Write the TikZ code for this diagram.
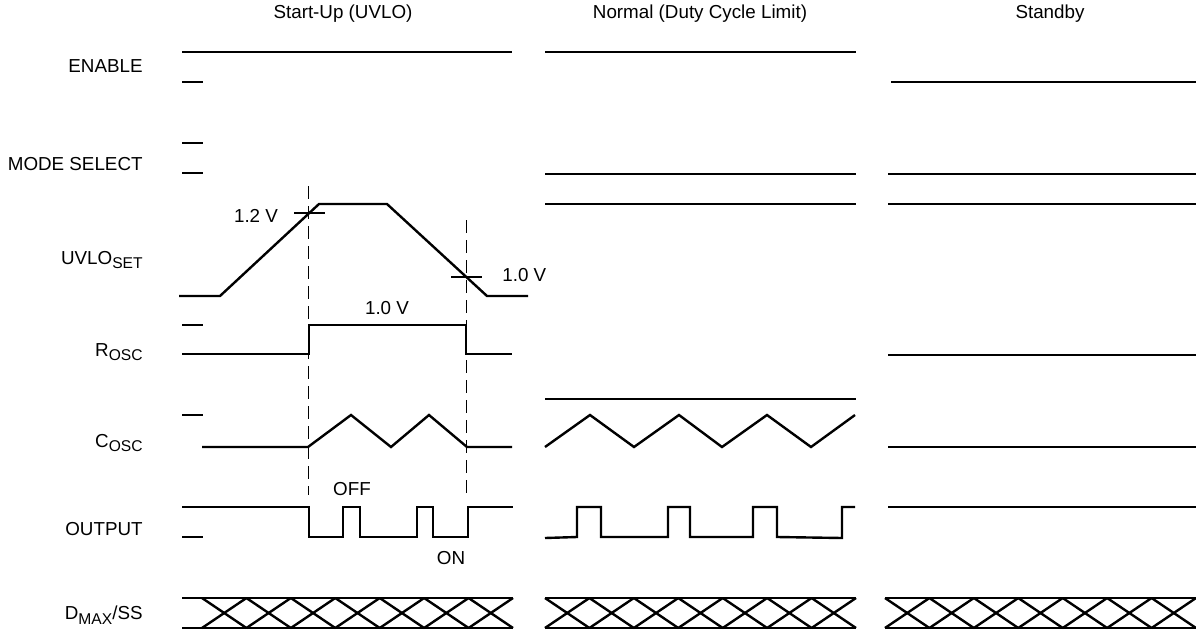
\documentclass[tikz,border=0pt]{standalone}
\usepackage{fontspec}
\setmainfont{Liberation Sans}
\usetikzlibrary{positioning}
\tikzstyle{wave}=[line width=1.2pt]
\tikzstyle{guide}=[line width=0.5pt, dash pattern=on 6.5pt off 3.5pt]
\tikzstyle{signame}=[anchor=east, inner sep=0pt]
\tikzstyle{lbl}=[inner sep=0pt]
\newcommand{\lowsub}[1]{\raisebox{-0.45ex}{\fontsize{7.8}{8}\selectfont #1}}

\begin{document}
\begin{tikzpicture}[x=0.5pt, y=-0.5pt, every node/.style={font=\fontsize{9.4}{11}\selectfont}]
    \useasboundingbox (0,0) rectangle (1196,633);

    % column titles
    \draw node at (343, 14) [lbl] (startup) {Start-Up (UVLO)};
    \draw node at (700, 14) [lbl] (normal) {Normal (Duty Cycle Limit)};
    \draw node at (1050, 14) [lbl] (standby) {Standby};

    % signal names
    \draw node at (143, 66) [signame] (enable) {ENABLE};
    \draw node at (143, 164) [signame] (mode) {MODE SELECT};
    \draw node at (143, 260) [signame] (uvlo) {UVLO\lowsub{SET}};
    \draw node at (143, 352) [signame] (rosc) {R\lowsub{OSC}};
    \draw node at (143, 443) [signame] (cosc) {C\lowsub{OSC}};
    \draw node at (143, 529) [signame] (output) {OUTPUT};
    \draw node at (143, 615) [signame] (dmax) {D\lowsub{MAX}/SS};

    % level marks
    \foreach \y in {82, 143, 173, 325, 415, 537}
        \draw [wave] (182, \y) -- (203, \y);

    % ENABLE
    \draw [wave] (182, 52) -- (512, 52);
    \draw [wave] (545, 52) -- (856, 52);
    \draw [wave] (891, 82) -- (1196, 82);

    % MODE SELECT
    \foreach \y in {174, 204} {
        \draw [wave] (545, \y) -- (856, \y);
        \draw [wave] (888, \y) -- (1196, \y);
    }

    % UVLO_SET
    \draw [wave] (179, 296) -- (220, 296) -- (319, 204) -- (387, 204) -- (487, 296) -- (528, 296);
    \draw [wave] (294, 213) -- (325, 213);
    \draw [wave] (451, 277) -- (482, 277);
    \draw node at (256, 216) [lbl] (uvon) {1.2 V};
    \draw node at (502, 275) [lbl, anchor=west] (uvoff) {1.0 V};

    % ROSC
    \draw [wave] (182, 354) -- (309, 354) -- (309, 325) -- (466, 325) -- (466, 354) -- (512, 354);
    \draw [wave] (888, 355) -- (1196, 355);
    \draw node at (387, 308) [lbl] (rlevel) {1.0 V};

    % COSC
    \draw [wave] (202, 447) -- (308, 447) -- (351, 415) -- (391, 447) -- (429, 415) -- (467, 447) -- (512, 447);
    \draw [wave] (545, 399) -- (856, 399);
    \draw [wave] (545, 447) -- (590, 415) -- (634, 447) -- (679, 415) -- (722, 447) -- (767, 415) -- (811, 447) -- (855, 415);
    \draw [wave] (888, 447) -- (1196, 447);

    % OUTPUT
    \draw [wave] (182, 507) -- (309, 507) -- (309, 537) -- (343, 537) -- (343, 507) -- (360, 507) -- (360, 537)
        -- (417, 537) -- (417, 507) -- (433, 507) -- (433, 537) -- (468, 537) -- (468, 507) -- (513, 507);
    \draw [wave] (545, 538) -- (577, 537) -- (577, 507) -- (601, 507) -- (601, 537) -- (668, 537) -- (668, 507)
        -- (690, 507) -- (690, 537) -- (753, 537) -- (753, 507) -- (777, 507) -- (777, 537) -- (842, 538)
        -- (842, 507) -- (855, 507);
    \draw [wave] (888, 507) -- (1196, 507);
    \draw node at (352, 489) [lbl] (off) {OFF};
    \draw node at (451, 558) [lbl] (on) {ON};

    % DMAX/SS
    \draw [wave] (182, 598) -- (513, 598);
    \draw [wave] (182, 628) -- (513, 628);
    \draw [wave] (545, 598) -- (856, 598);
    \draw [wave] (545, 628) -- (856, 628);
    \draw [wave] (885, 598) -- (1196, 598);
    \draw [wave] (885, 628) -- (1196, 628);
    \foreach \x in {202, 545, 885}
        \foreach \i in {0, ..., 6} {
            \draw [wave] ({\x + 44.43*\i}, 598) -- ({\x + 44.43*(\i + 1)}, 628);
            \draw [wave] ({\x + 44.43*\i}, 628) -- ({\x + 44.43*(\i + 1)}, 598);
        }

    % switching instants
    \coordinate (ontop) at (308, 186);
    \coordinate (onbot) at (308, 495);
    \coordinate (offtop) at (466, 220);
    \coordinate (offbot) at (466, 495);
    \draw [guide] (ontop) -- (onbot);
    \draw [guide] (offtop) -- (offbot);
\end{tikzpicture}
\end{document}
